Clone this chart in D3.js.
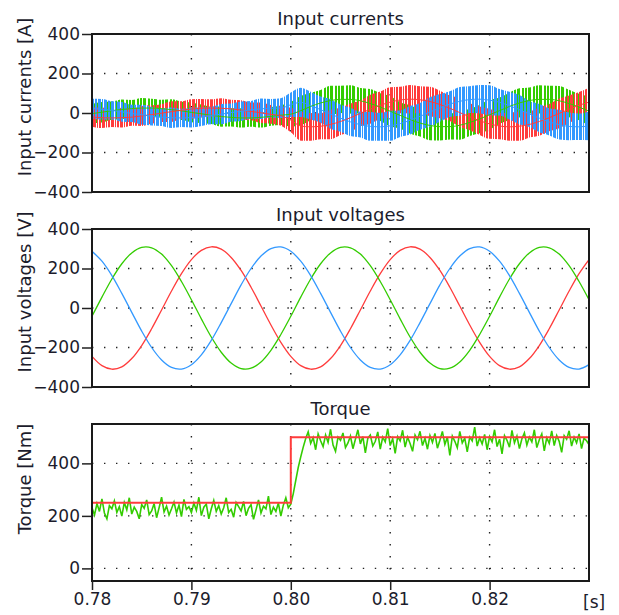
<!DOCTYPE html>
<html>
<head>
<meta charset="utf-8">
<script src="https://cdn.jsdelivr.net/npm/d3@7"></script>
<style>
  body { margin: 0; background: #fff; }
  svg text { font-family: "DejaVu Sans", Verdana, sans-serif; fill: #1c1c2c; }
</style>
</head>
<body>
<svg width="619" height="615"></svg>
<script>
// time grid of the sampled signals
var t0 = 0.78, dtWave = 0.001, dtTorque = 0.00025;

// input currents, centre of each phase band [A], every 1 ms
var iRed = [-20,-24,-25,-24,-21,-15,-8,-1,7,14,20,24,25,24,21,15,8,1,-7,-14,
  -36,-66,-70,-67,-58,-43,-24,-2,19,39,55,66,70,67,58,43,24,2,-19,-39,
  -55,-66,-70,-67,-58,-43,-24,-2,19,39,55];
var iGreen = [-3,4,12,18,22,25,25,22,17,11,3,-4,-12,-18,-22,-25,-25,-22,-17,-11,
  -6,12,33,51,63,69,69,62,48,30,9,-12,-33,-51,-63,-69,-69,-62,-48,-30,
  -9,12,33,51,63,69,69,62,48,30,9];
var iBlue = [23,19,13,6,-2,-9,-16,-21,-24,-25,-23,-19,-13,-6,2,9,16,21,24,25,
  42,54,37,17,-5,-26,-45,-59,-68,-70,-65,-54,-37,-17,5,26,45,59,68,70,
  65,54,37,17,-5,-26,-45,-59,-68,-70,-65];
// switching ripple half-width [A]
var iRipple = [49,52,46,50,44,51,47,45,52,46,50,47,44,51,46,49,45,52,47,50,
  62,74,70,66,75,69,72,65,73,70,76,67,72,68,75,70,65,73,68,72,
  76,67,70,74,66,72,69,75,70,67,73];

// input voltages [V], every 1 ms
var vRed = [-245,-292,-310,-298,-256,-190,-105,-10,86,174,245,292,310,298,256,190,105,10,-86,-174,
  -245,-292,-310,-298,-256,-190,-105,-10,86,174,245,292,310,298,256,190,105,10,-86,-174,
  -245,-292,-310,-298,-256,-190,-105,-10,86,174,245];
var vGreen = [-42,55,147,224,279,307,305,273,214,134,42,-55,-147,-224,-279,-307,-305,-273,-214,-134,
  -42,55,147,224,279,307,305,273,214,134,42,-55,-147,-224,-279,-307,-305,-273,-214,-134,
  -42,55,147,224,279,307,305,273,214,134,42];
var vBlue = [287,237,164,74,-22,-117,-200,-263,-301,-309,-287,-237,-164,-74,22,117,200,263,301,309,
  287,237,164,74,-22,-117,-200,-263,-301,-309,-287,-237,-164,-74,22,117,200,263,301,309,
  287,237,164,74,-22,-117,-200,-263,-301,-309,-287];

// torque [Nm], every 0.25 ms; before and after the step at 0.80 s
var torquePre = [231,203,247,217,265,211,189,239,227,257,213,235,199,251,223,269,207,233,217,189,
  243,229,261,205,219,247,193,231,271,215,237,203,227,253,211,241,197,263,225,235,
  213,249,221,271,201,233,245,189,227,259,217,239,207,231,269,213,225,195,251,235,
  219,255,201,229,243,187,223,261,211,237,227,275,205,233,217,249,199,241,269,231];
var torquePost = [245,285,335,385,425,462,495,520,476,498,452,512,486,464,508,480,530,470,446,500,
  488,516,460,478,504,456,492,528,474,502,440,496,508,466,484,520,454,500,482,532,
  468,494,438,502,486,526,462,500,476,446,508,490,522,468,496,454,506,480,514,458,
  488,522,472,500,430,504,484,460,522,478,496,444,500,486,538,466,498,474,510,452,
  502,482,528,464,492,436,506,488,462,526,478,504,456,494,516,470,500,482,528,460,
  490,512,448,498,476,524,468,506,484,442,506,492,524,466,500,478,512,456,496,486,472];
var torqueRefTimes = [0.78, 0.80, 0.80, 0.83];
var torqueRefValues = [250, 250, 500, 500];

var xTicks = [0.78, 0.79, 0.80, 0.81, 0.82];
var colors = {red: "#ff3c3c", green: "#33cc00", blue: "#3399ff"};

var svg = d3.select("svg");
var x = d3.scaleLinear().domain([0.78, 0.83]).range([92, 589]);

var panels = [
  {title: "Input currents", label: "Input currents [A]", top: 34, bottom: 192, domain: [-400, 400],
   ticks: [-400, -200, 0, 200, 400], grid: [-200, 0, 200], titleY: 25, labelY: 97},
  {title: "Input voltages", label: "Input voltages [V]", top: 229, bottom: 387, domain: [-400, 400],
   ticks: [-400, -200, 0, 200, 400], grid: [-200, 0, 200], titleY: 221, labelY: 292},
  {title: "Torque", label: "Torque [Nm]", top: 424, bottom: 581, domain: [-48, 550],
   ticks: [0, 200, 400], grid: [0, 200, 400], titleY: 415, labelY: 479}
];

// irregular vertical hatching used for the switching ripple bands
var defs = svg.append("defs");
var hatches = [
  ["green", 11, [[0, 3], [5, 2], [8, 2]]],
  ["red", 9, [[0, 2], [3, 3], [7, 1]]],
  ["blue", 13, [[0, 3], [4, 2], [7, 3], [11, 1]]]
];
hatches.forEach(function(h) {
  var pat = defs.append("pattern")
      .attr("id", "hatch-" + h[0])
      .attr("patternUnits", "userSpaceOnUse")
      .attr("width", h[1]).attr("height", 10);
  h[2].forEach(function(s) {
    pat.append("rect")
        .attr("x", s[0]).attr("width", s[1]).attr("height", 10)
        .attr("fill", colors[h[0]]);
  });
});

function drawPanel(p, i) {
  var y = d3.scaleLinear().domain(p.domain).range([p.bottom, p.top]);
  p.y = y;
  var g = svg.append("g").attr("class", "panel-" + i);

  defs.append("clipPath").attr("id", "clip" + i)
    .append("rect")
      .attr("x", x.range()[0]).attr("y", p.top)
      .attr("width", x.range()[1] - x.range()[0]).attr("height", p.bottom - p.top);

  // dotted grid, horizontal lines restart at every x tick
  var edges = xTicks.concat([0.83]);
  p.grid.forEach(function(v) {
    for (var k = 0; k < edges.length - 1; k++) {
      g.append("line")
          .attr("x1", x(edges[k])).attr("x2", x(edges[k + 1]))
          .attr("y1", y(v)).attr("y2", y(v))
          .attr("stroke", "#222").attr("stroke-width", 1.4)
          .attr("stroke-dasharray", "1.4,10.6");
    }
  });
  xTicks.slice(1).forEach(function(t) {
    g.append("line")
        .attr("x1", x(t)).attr("x2", x(t))
        .attr("y1", p.top).attr("y2", p.bottom)
        .attr("stroke", "#222").attr("stroke-width", 1.4)
        .attr("stroke-dasharray", "1.4,10.6");
  });

  p.plot = g.append("g").attr("clip-path", "url(#clip" + i + ")");

  g.append("text")
      .attr("x", (x.range()[0] + x.range()[1]) / 2)
      .attr("y", p.titleY)
      .attr("text-anchor", "middle")
      .style("font-size", "18px")
      .text(p.title);

  g.append("text")
      .attr("transform", "translate(31," + p.labelY + ") rotate(-90)")
      .attr("text-anchor", "middle")
      .style("font-size", "18px")
      .text(p.label);

  var yAxis = g.append("g")
      .attr("transform", "translate(" + x.range()[0] + ",0)")
      .call(d3.axisLeft(y).tickValues(p.ticks).tickSize(10).tickSizeOuter(0).tickPadding(2));
  yAxis.select(".domain").remove();
  yAxis.selectAll("line").attr("stroke", "#222").attr("stroke-width", 1.5);
  yAxis.selectAll("text").style("font-size", "17px").style("font-family", null).attr("fill", null);
}

panels.forEach(drawPanel);

// input currents: ripple bands with a hatched fill, plus the centre line
var pc = panels[0];
var currentSeries = [["green", iGreen], ["red", iRed], ["blue", iBlue]];
currentSeries.forEach(function(s) {
  var band = d3.area()
      .x(function(d, k) { return x(t0 + k * dtWave); })
      .y0(function(d, k) { return pc.y(d - iRipple[k]); })
      .y1(function(d, k) { return pc.y(d + iRipple[k]); })
      .curve(d3.curveMonotoneX);
  pc.plot.append("path")
      .datum(s[1])
      .attr("d", band)
      .attr("fill", "url(#hatch-" + s[0] + ")");
});
currentSeries.forEach(function(s) {
  var line = d3.line()
      .x(function(d, k) { return x(t0 + k * dtWave); })
      .y(function(d) { return pc.y(d); })
      .curve(d3.curveMonotoneX);
  pc.plot.append("path")
      .datum(s[1])
      .attr("d", line)
      .attr("fill", "none")
      .attr("stroke", colors[s[0]])
      .attr("stroke-width", 1);
});

// input voltages
var pv = panels[1];
[["red", vRed], ["green", vGreen], ["blue", vBlue]].forEach(function(s) {
  var line = d3.line()
      .x(function(d, k) { return x(t0 + k * dtWave); })
      .y(function(d) { return pv.y(d); })
      .curve(d3.curveCatmullRom);
  pv.plot.append("path")
      .datum(s[1])
      .attr("d", line)
      .attr("fill", "none")
      .attr("stroke", colors[s[0]])
      .attr("stroke-width", 1.3);
});

// torque: measured (green) and reference (red)
var pt = panels[2];
var torque = torquePre.map(function(v, k) { return [t0 + k * dtTorque, v]; })
  .concat(torquePost.map(function(v, k) { return [0.80 + k * dtTorque, v]; }));
pt.plot.append("path")
    .datum(torque)
    .attr("d", d3.line()
        .x(function(d) { return x(d[0]); })
        .y(function(d) { return pt.y(d[1]); }))
    .attr("fill", "none")
    .attr("stroke", colors.green)
    .attr("stroke-width", 1.6);
pt.plot.append("path")
    .datum(torqueRefTimes)
    .attr("d", d3.line()
        .x(function(d) { return x(d); })
        .y(function(d, k) { return pt.y(torqueRefValues[k]); }))
    .attr("fill", "none")
    .attr("stroke", colors.red)
    .attr("stroke-width", 2);

// panel frames on top
panels.forEach(function(p) {
  svg.append("rect")
      .attr("x", x.range()[0]).attr("y", p.top)
      .attr("width", x.range()[1] - x.range()[0]).attr("height", p.bottom - p.top)
      .attr("fill", "none")
      .attr("stroke", "#1a1a1a")
      .attr("stroke-width", 2);
});

// time axis under the torque panel
var xAxis = svg.append("g")
    .attr("transform", "translate(0," + pt.bottom + ")")
    .call(d3.axisBottom(x).tickValues(xTicks).tickSize(9).tickSizeOuter(0)
      .tickPadding(3).tickFormat(d3.format(".2f")));
xAxis.select(".domain").remove();
xAxis.selectAll("line").attr("stroke", "#222").attr("stroke-width", 1.5);
xAxis.selectAll("text").style("font-size", "17px").style("font-family", null).attr("fill", null);

svg.append("text")
    .attr("x", 583).attr("y", 608)
    .style("font-size", "17px")
    .text("[s]");
</script>
</body>
</html>
